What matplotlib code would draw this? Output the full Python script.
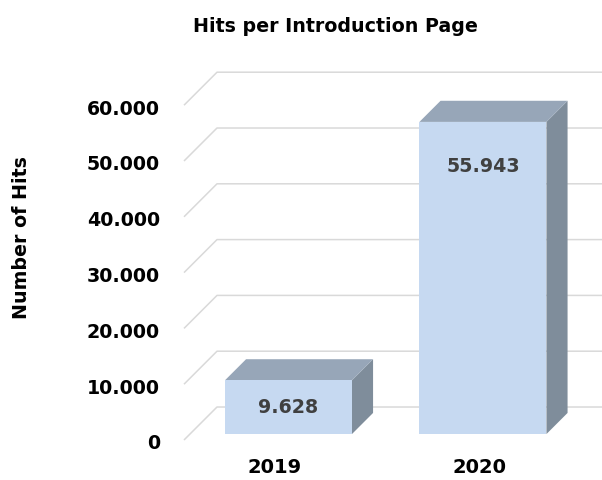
import matplotlib.pyplot as plt
from matplotlib.patches import Polygon

years = ["2019", "2020"]
hits = [9628, 55943]
value_labels = ["9.628", "55.943"]
ticks = [0, 10000, 20000, 30000, 40000, 50000, 60000]
tick_labels = ["0", "10.000", "20.000", "30.000", "40.000", "50.000", "60.000"]

# oblique "3d" look: shift per unit of depth (x in category units, y in hits)
DX = 0.1697
DY = 5914
HALF_W = 0.3265
D_FRONT, D_BACK = 0.18, 0.82

FRONT = "#C6D9F1"
TOP = "#97A6B8"
SIDE = "#7F8D9B"
GRID = "#D9D9D9"


def proj(x, v, d):
    return (x + d * DX, v + d * DY)


fig = plt.figure(figsize=(6.02, 4.80), dpi=100)
ax = fig.add_axes([0, 0, 1, 1])
ax.set_xlim(-1.4524, 1.6427)
ax.set_ylim(-7168, 78853)
ax.axis("off")

# gridlines: short diagonal on the floor side, then along the back wall
for t in ticks:
    x_left = -0.5064
    pts = [proj(x_left, t, 0), proj(x_left, t, 1), proj(2.0, t, 1)]
    ax.plot([p[0] for p in pts], [p[1] for p in pts], color=GRID, lw=1.1,
            zorder=1, solid_capstyle="butt")

for i, v in enumerate(hits):
    x0, x1 = i - HALF_W, i + HALF_W
    front = [proj(x0, 0, D_FRONT), proj(x1, 0, D_FRONT),
             proj(x1, v, D_FRONT), proj(x0, v, D_FRONT)]
    top = [proj(x0, v, D_FRONT), proj(x1, v, D_FRONT),
           proj(x1, v, D_BACK), proj(x0, v, D_BACK)]
    side = [proj(x1, 0, D_FRONT), proj(x1, 0, D_BACK),
            proj(x1, v, D_BACK), proj(x1, v, D_FRONT)]
    for poly, c in [(side, SIDE), (top, TOP), (front, FRONT)]:
        ax.add_patch(Polygon(poly, closed=True, facecolor=c, edgecolor="none", zorder=2))

    # label near the top, or centred if the bar is short
    ly = max(v / 2, v - 8000)
    lx, ly = proj(i, ly, D_FRONT)
    ax.text(lx, ly, value_labels[i], ha="center", va="center", fontsize=13.7,
            fontweight="bold", color="#404040", zorder=3)

for t, lab in zip(ticks, tick_labels):
    ax.text(-0.63, t - 700, lab, ha="right", va="center", fontsize=13.7,
            fontweight="bold", color="black")

for i, y in enumerate(years):
    ax.text(i - 0.04 + 0.055 * i, -5000, y, ha="center", va="center",
            fontsize=14, fontweight="bold", color="black")

ax.text(-1.344, 36200, "Number of Hits", rotation=90, ha="center", va="center",
        fontsize=13.7, fontweight="bold", color="black")

fig.text(0.557, 0.945, "Hits per Introduction Page", ha="center", va="center",
         fontsize=13.7, fontweight="bold", color="black")

fig.savefig("out.png", dpi=100, facecolor="white")
